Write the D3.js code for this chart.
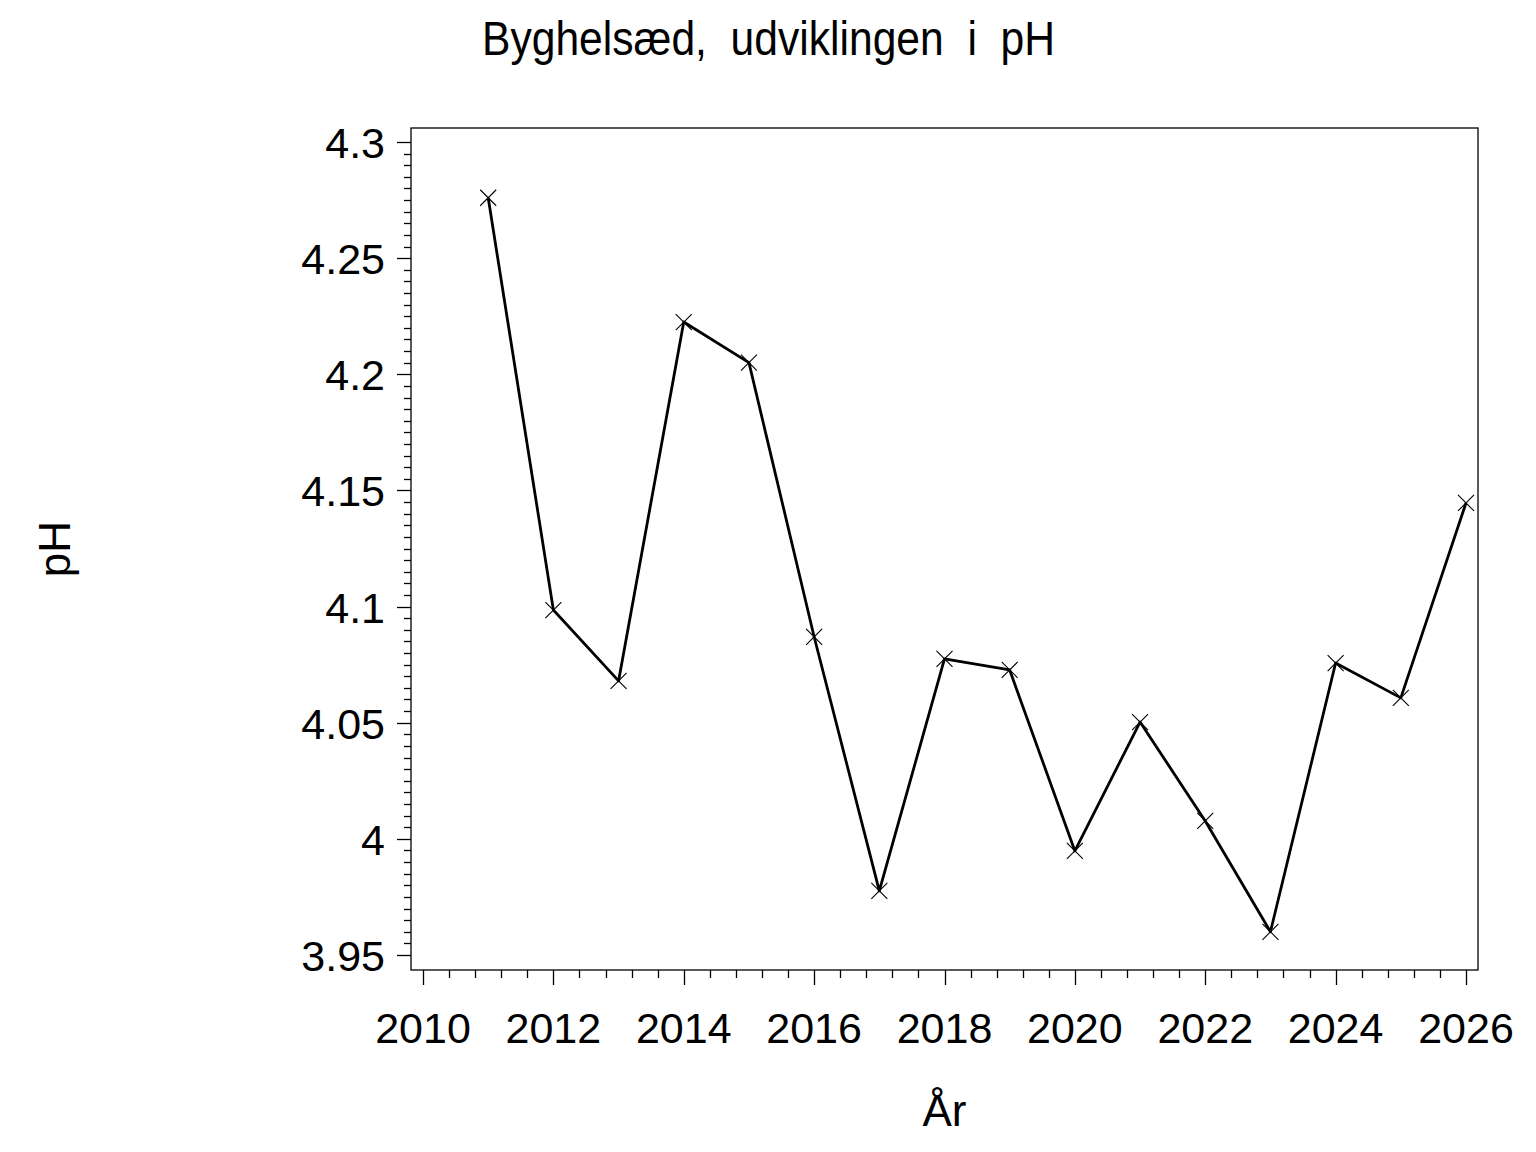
<!DOCTYPE html>
<html>
<head>
<meta charset="utf-8">
<script src="https://cdn.jsdelivr.net/npm/d3@7"></script>
<style>
  body { margin: 0; background: #fff; }
  svg text { font-family: "Liberation Sans", Arial, sans-serif; fill: #000; }
</style>
</head>
<body>
<svg width="1536" height="1152"></svg>
<script>
// data
const aar = [2011, 2012, 2013, 2014, 2015, 2016, 2017, 2018, 2019, 2020, 2021, 2022, 2023, 2024, 2025, 2026];
const ph = [4.276, 4.0985, 4.068, 4.2225, 4.205, 4.087, 3.9776, 4.0775, 4.0727, 3.9948, 4.0503, 4.0077, 3.960, 4.0757, 4.0607, 4.1446];
const yTicks = [3.95, 4, 4.05, 4.1, 4.15, 4.2, 4.25, 4.3];
const xTicks = [2010, 2012, 2014, 2016, 2018, 2020, 2022, 2024, 2026];

const svg = d3.select("svg");

// ramme
const ramme = { left: 411, top: 128, right: 1478, bottom: 970 };

const xScale = d3.scaleLinear().domain([2010, 2026]).range([423, 1466]);
const yScale = d3.scaleLinear().domain([3.95, 4.3]).range([955, 142]);

svg.append("rect")
    .attr("x", ramme.left)
    .attr("y", ramme.top)
    .attr("width", ramme.right - ramme.left)
    .attr("height", ramme.bottom - ramme.top)
    .attr("fill", "none")
    .attr("stroke", "#000")
    .attr("stroke-width", 1.3);

// y-akse: små streger hver 0.005
const yMinor = d3.range(0, 71).map(i => 3.95 + i * 0.005);
svg.append("g").selectAll("line")
    .data(yMinor)
    .enter()
    .append("line")
    .attr("x1", (d, i) => i % 10 === 0 ? ramme.left - 14 : ramme.left - 7)
    .attr("x2", ramme.left)
    .attr("y1", d => Math.round(yScale(d)) + 0.5)
    .attr("y2", d => Math.round(yScale(d)) + 0.5)
    .attr("stroke", "#000")
    .attr("stroke-width", 1.3);

svg.append("g").selectAll("text")
    .data(yTicks)
    .enter()
    .append("text")
    .attr("x", 385)
    .attr("y", d => yScale(d) + 16)
    .attr("text-anchor", "end")
    .attr("font-size", 43)
    .text(d => d3.format("")(d));

// x-akse: små streger hver 0.4 år
const xMinor = d3.range(0, 41).map(i => 2010 + i * 0.4);
svg.append("g").selectAll("line")
    .data(xMinor)
    .enter()
    .append("line")
    .attr("x1", d => Math.round(xScale(d)) + 0.5)
    .attr("x2", d => Math.round(xScale(d)) + 0.5)
    .attr("y1", ramme.bottom)
    .attr("y2", (d, i) => i % 5 === 0 ? ramme.bottom + 15 : ramme.bottom + 8)
    .attr("stroke", "#000")
    .attr("stroke-width", 1.3);

svg.append("g").selectAll("text")
    .data(xTicks)
    .enter()
    .append("text")
    .attr("x", d => xScale(d))
    .attr("y", 1043)
    .attr("text-anchor", "middle")
    .attr("font-size", 43)
    .text(d => d);

// kurve
const linje = d3.line()
    .x((d, i) => xScale(aar[i]))
    .y(d => yScale(d));

svg.append("path")
    .datum(ph)
    .attr("d", linje)
    .attr("fill", "none")
    .attr("stroke", "#000")
    .attr("stroke-width", 2.8)
    .attr("stroke-linejoin", "round");

// krydsmarkører
const kryds = 8;
svg.append("g").selectAll("path")
    .data(ph)
    .enter()
    .append("path")
    .attr("d", (d, i) => {
        const x = xScale(aar[i]), y = yScale(d);
        return `M${x - kryds},${y - kryds}L${x + kryds},${y + kryds}M${x - kryds},${y + kryds}L${x + kryds},${y - kryds}`;
    })
    .attr("stroke", "#000")
    .attr("stroke-width", 1.1)
    .attr("fill", "none");

// titel og aksetitler
svg.append("text")
    .attr("x", 482)
    .attr("y", 55)
    .attr("font-size", 49)
    .attr("textLength", 573)
    .attr("lengthAdjust", "spacingAndGlyphs")
    .style("white-space", "pre")
    .text("Byghelsæd,  udviklingen  i  pH");

svg.append("text")
    .attr("x", (ramme.left + ramme.right) / 2)
    .attr("y", 1126)
    .attr("text-anchor", "middle")
    .attr("font-size", 44)
    .text("År");

svg.append("text")
    .attr("transform", `translate(70,${(ramme.top + ramme.bottom) / 2}) rotate(-90)`)
    .attr("text-anchor", "middle")
    .attr("font-size", 44)
    .text("pH");
</script>
</body>
</html>
